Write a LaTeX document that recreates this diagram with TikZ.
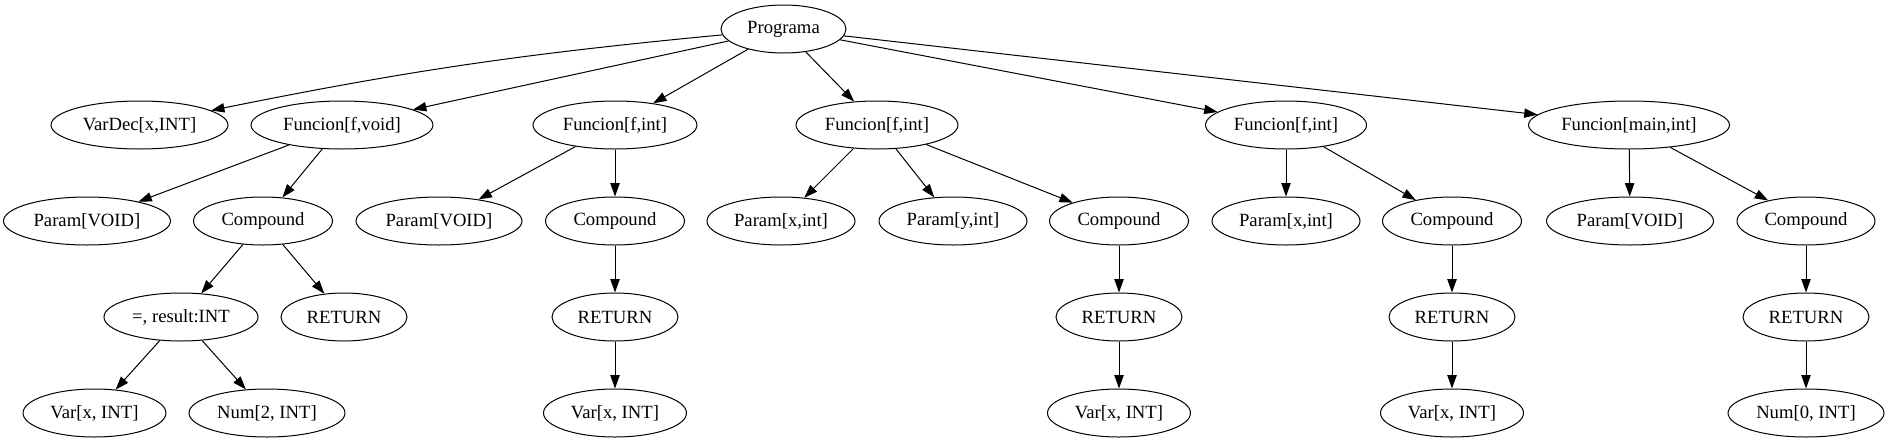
\documentclass[tikz,border=0pt]{standalone}
\usepackage{fontspec}
\setmainfont{Liberation Serif}
\usetikzlibrary{shapes.geometric,arrows.meta}
\tikzset{
  tn/.style={draw, ellipse, line width=0.75pt, inner sep=0pt, minimum height=36pt,
             minimum width=#1*0.75pt, font=\fontsize{14pt}{16pt}\selectfont},
  edge/.style={line width=0.75pt, -{Triangle[length=10pt,width=7pt]}}
}
\begin{document}
\begin{tikzpicture}[x=0.75pt,y=-0.75pt]
\useasboundingbox (0,0) rectangle (1888,443);
% row 1
\node[tn=125] (P) at (783.5,29) {Programa};
% row 2
\node[tn=177] (vd) at (139.5,125) {VarDec[x,INT]};
\node[tn=182] (f1) at (342,125) {Funcion[f,void]};
\node[tn=164] (f2) at (615,125) {Funcion[f,int]};
\node[tn=162] (f3) at (877,125) {Funcion[f,int]};
\node[tn=161] (f4) at (1286,125) {Funcion[f,int]};
\node[tn=201] (f5) at (1629,125) {Funcion[main,int]};
% row 3
\node[tn=167] (p1) at (87,221) {Param[VOID]};
\node[tn=139] (c1) at (263,221) {Compound};
\node[tn=166] (p2) at (439,221) {Param[VOID]};
\node[tn=139] (c2) at (615,221) {Compound};
\node[tn=148] (p3) at (781,221) {Param[x,int]};
\node[tn=148] (p4) at (953,221) {Param[y,int]};
\node[tn=139] (c3) at (1119,221) {Compound};
\node[tn=148] (p5) at (1286,221) {Param[x,int]};
\node[tn=139] (c4) at (1452,221) {Compound};
\node[tn=167] (p6) at (1630,221) {Param[VOID]};
\node[tn=138] (c5) at (1806,221) {Compound};
% row 4
\node[tn=154] (a1) at (181,317) {=, result:INT};
\node[tn=126] (r1) at (344,317) {RETURN};
\node[tn=126] (r2) at (615,317) {RETURN};
\node[tn=126] (r3) at (1119,317) {RETURN};
\node[tn=126] (r4) at (1452,317) {RETURN};
\node[tn=126] (r5) at (1806,317) {RETURN};
% row 5
\node[tn=143] (v1) at (94.5,413) {Var[x, INT]};
\node[tn=156] (n1) at (267,413) {Num[2, INT]};
\node[tn=143] (v2) at (615,413) {Var[x, INT]};
\node[tn=143] (v3) at (1119,413) {Var[x, INT]};
\node[tn=143] (v4) at (1452,413) {Var[x, INT]};
\node[tn=156] (n2) at (1806,413) {Num[0, INT]};
% edges
\draw[edge] (P) to[bend right=3] (vd);
\foreach \s/\t in {P/f1,P/f2,P/f3,P/f4,P/f5,
  f1/p1,f1/c1,c1/a1,c1/r1,a1/v1,a1/n1,
  f2/p2,f2/c2,c2/r2,r2/v2,
  f3/p3,f3/p4,f3/c3,c3/r3,r3/v3,
  f4/p5,f4/c4,c4/r4,r4/v4,
  f5/p6,f5/c5,c5/r5,r5/n2}
  \draw[edge] (\s) -- (\t);
\end{tikzpicture}
\end{document}
